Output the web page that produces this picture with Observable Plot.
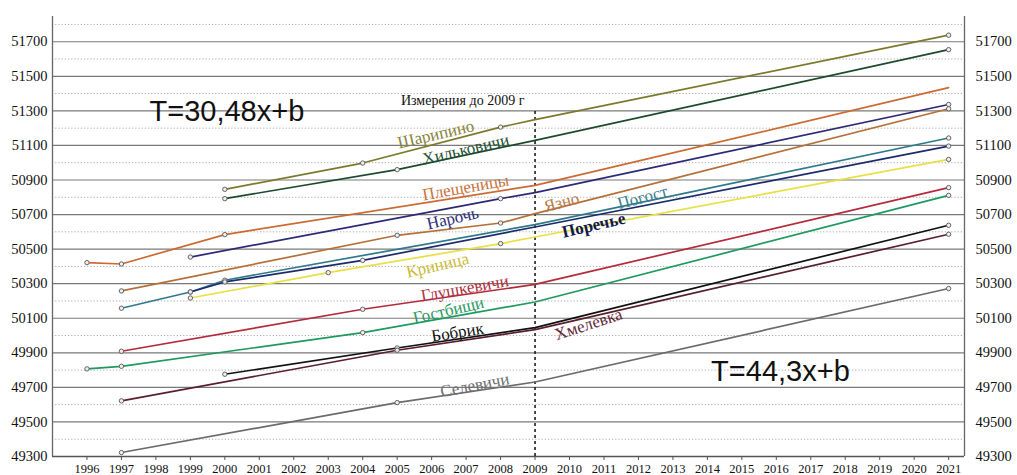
<!DOCTYPE html>
<html>
<head>
<meta charset="utf-8">
<script src="https://cdn.jsdelivr.net/npm/d3@7"></script>
<script src="https://cdn.jsdelivr.net/npm/@observablehq/plot@0.6"></script>
<style>
  html, body { margin: 0; padding: 0; background: #fff; }
  #chart g[aria-label$="tick label"],
  #chart g[aria-label$="tick label"] text { font-family: 'Liberation Serif', 'DejaVu Serif', serif !important; }
</style>
</head>
<body>
<div id="chart"></div>
<script>
// ---- tick labels ----
const xYears = d3.range(1996, 2022);
const yMajor = d3.range(49300, 51701, 200);
const yMinor = d3.range(49400, 51801, 200);

// ---- series (year, value) ----
const sharipinoYears = [2000, 2004, 2008, 2009, 2021];
const sharipinoVals  = [50846, 50998, 51206, 51249, 51738];
const hilkovichiYears = [2000, 2005, 2009, 2021];
const hilkovichiVals  = [50792, 50960, 51129, 51654];
const pleshchenitsyYears = [1996, 1997, 2000, 2009, 2021];
const pleshchenitsyVals  = [50422, 50414, 50584, 50869, 51434];
const narochYears = [1999, 2008, 2009, 2021];
const narochVals  = [50454, 50792, 50827, 51337];
const yaznoYears = [1997, 2005, 2008, 2009, 2021];
const yaznoVals  = [50258, 50580, 50651, 50705, 51312];
const pogostYears = [1997, 1999, 2000, 2009, 2021];
const pogostVals  = [50158, 50252, 50320, 50642, 51143];
const porechyeYears = [1999, 2000, 2004, 2009, 2021];
const porechyeVals  = [50252, 50310, 50435, 50628, 51096];
const krinitsaYears = [1999, 2003, 2008, 2009, 2021];
const krinitsaVals  = [50217, 50364, 50532, 50570, 51019];
const glushkevichiYears = [1997, 2004, 2009, 2021];
const glushkevichiVals  = [49909, 50152, 50296, 50856];
const gostbishchiYears = [1996, 1997, 2004, 2009, 2021];
const gostbishchiVals  = [49807, 49822, 50017, 50194, 50811];
const bobrikYears = [2000, 2005, 2009, 2021];
const bobrikVals  = [49776, 49928, 50046, 50638];
const khmelevkaYears = [1997, 2005, 2009, 2021];
const khmelevkaVals  = [49622, 49915, 50034, 50586];
const selevichiYears = [1997, 2005, 2009, 2021];
const selevichiVals  = [49323, 49612, 49731, 50272];

const names = ["Шарипино", "Хильковичи", "Плещеницы", "Нарочь", "Язно", "Погост", "Поречье",
               "Криница", "Глушкевичи", "Гостбищи", "Бобрик", "Хмелевка", "Селевичи"];
const seriesYears = [sharipinoYears, hilkovichiYears, pleshchenitsyYears, narochYears, yaznoYears,
                     pogostYears, porechyeYears, krinitsaYears, glushkevichiYears, gostbishchiYears,
                     bobrikYears, khmelevkaYears, selevichiYears];
const seriesVals = [sharipinoVals, hilkovichiVals, pleshchenitsyVals, narochVals, yaznoVals,
                    pogostVals, porechyeVals, krinitsaVals, glushkevichiVals, gostbishchiVals,
                    bobrikVals, khmelevkaVals, selevichiVals];
// points without a marker (2009 is the break year, not a measurement)
const unmarkedYear = 2009;
const unmarkedExtra = [["Плещеницы", 2021]];

// ---- label anchors (data space) ----
const labelYears  = [2006.12, 2006.99, 2006.99, 2006.61, 2009.77, 2012.12, 2010.70,
                     2006.17, 2006.96, 2006.49, 2006.75, 2010.55, 2007.25];
const labelVals   = [51164, 51077, 50857, 50678, 50771, 50799, 50638,
                     50406, 50273, 50146, 50019, 50065, 49712];

// ---- styles ----
const serif = "'Liberation Serif', 'DejaVu Serif', serif";
const lineColors  = ["#7b7a2c", "#1d4a2c", "#cc6a34", "#2c2a76", "#b5703a", "#2f7a8a", "#1b2b6c",
                     "#e8e044", "#b42b3c", "#1e9a5e", "#111111", "#5a1e2c", "#6b6b6b"];
const labelColors = ["#86843a", "#1f5233", "#c8733e", "#2f2d78", "#b87a48", "#3b7f8e", "#111a4a",
                     "#cbbb3c", "#b03040", "#2a9a62", "#111111", "#62283a", "#6e6e6e"];
const labelAngles = [-13, -13, -10, -13, -15, -15, -13, -13, -10, -13, -9, -18, -11];

const rows = names.flatMap((n, i) => seriesYears[i].map((yr, j) => ({
  name: n, year: yr, value: seriesVals[i][j],
  marker: yr !== unmarkedYear && !unmarkedExtra.some(([a, b]) => a === n && b === yr)
})));

const labelMarks = names.map((n, i) => Plot.text([n], {
  x: () => labelYears[i], y: () => labelVals[i], text: d => d,
  rotate: labelAngles[i], fill: labelColors[i], fontSize: 17,
  fontFamily: serif, fontWeight: n === "Поречье" ? "bold" : "normal"
}));

const xLeft = 1995, xRight = 2021.46;

const chart = Plot.plot({
  width: 1017, height: 475,
  marginLeft: 52, marginRight: 53, marginTop: 16, marginBottom: 19,
  x: {domain: [xLeft, xRight], axis: null},
  y: {domain: [49300, 51846], axis: null},
  color: {domain: names, range: lineColors},
  style: {fontFamily: serif, background: "#fff", color: "#111", overflow: "visible"},
  marks: [
    Plot.ruleY(yMinor, {stroke: "#a8a8a8", strokeWidth: 1, strokeDasharray: "1.2,2"}),
    Plot.ruleY(yMajor, {stroke: "#7a7a7a", strokeWidth: 1.2}),
    Plot.ruleX([xLeft, xRight], {stroke: "#666", strokeWidth: 1.3}),
    Plot.ruleY([49300], {stroke: "#555", strokeWidth: 1.3}),
    Plot.axisX(xYears, {tickSize: 4, tickPadding: 4, fontSize: 12.5, fontFamily: serif, tickFormat: d => String(d), label: null, stroke: "#555"}),
    Plot.axisY(yMajor, {anchor: "left", tickSize: 0, tickPadding: 5, fontSize: 14.5, fontFamily: serif, tickFormat: d => String(d), label: null}),
    Plot.axisY(yMajor, {anchor: "right", tickSize: 0, tickPadding: 11, fontSize: 14.5, fontFamily: serif, tickFormat: d => String(d), label: null}),
    Plot.ruleX([2009], {y1: 49300, y2: 51300, stroke: "#111", strokeWidth: 1.5, strokeDasharray: "3,3"}),
    Plot.line(rows, {x: "year", y: "value", z: "name", stroke: "name", strokeWidth: 1.7}),
    Plot.dot(rows.filter(d => d.marker), {x: "year", y: "value", r: 2.2, stroke: "#555", strokeWidth: 0.9, fill: "#eee"}),
    ...labelMarks,
    Plot.text(["Измерения до 2009 г"], {x: () => 2006.9, y: () => 51360, text: d => d, fontSize: 14, fontFamily: serif, fill: "#111"}),
    Plot.text(["T=30,48x+b"], {x: () => 2000.06, y: () => 51297, text: d => d, fontSize: 29, fontFamily: "'Liberation Sans', Arial, sans-serif", fill: "#111"}),
    Plot.text(["T=44,3x+b"], {x: () => 2016.12, y: () => 49793, text: d => d, fontSize: 29, fontFamily: "'Liberation Sans', Arial, sans-serif", fill: "#111"})
  ]
});
d3.select(chart).selectAll('g[aria-label$="tick label"]').attr("font-family", serif)
  .selectAll("text").style("font-family", serif);
document.getElementById("chart").appendChild(chart);
</script>
</body>
</html>
